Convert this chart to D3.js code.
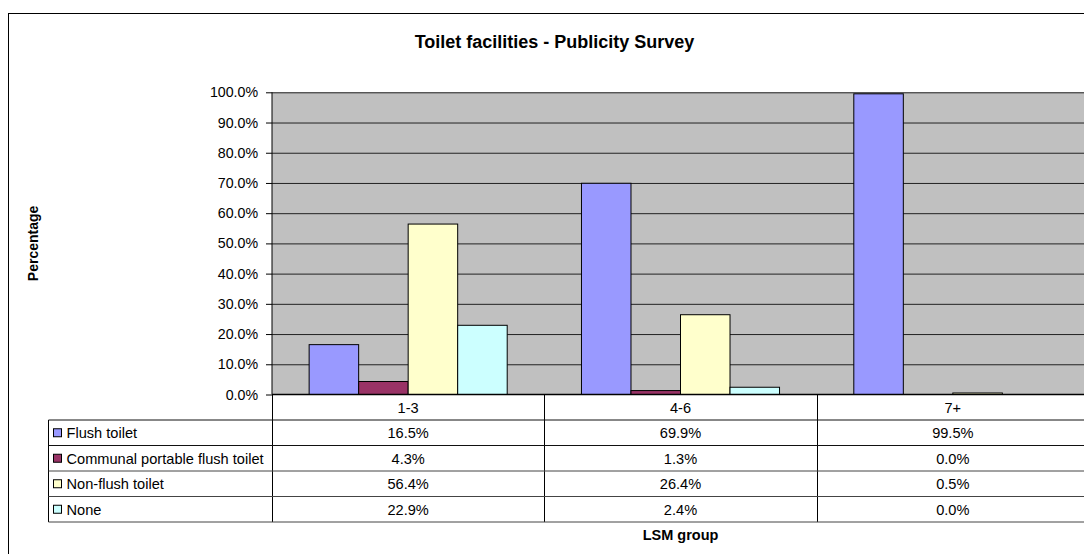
<!DOCTYPE html>
<html>
<head>
<meta charset="utf-8">
<script src="https://cdn.jsdelivr.net/npm/d3@7"></script>
<style>
  html, body { margin: 0; padding: 0; background: #fff; }
  svg { display: block; font-family: "Liberation Sans", Arial, sans-serif; }
</style>
</head>
<body>
<svg id="chart" width="1084" height="554"></svg>
<script>
// ---- data ----
const categories = ["1-3", "4-6", "7+"];
const seriesNames = ["Flush toilet", "Communal portable flush toilet", "Non-flush toilet", "None"];
const flushToilet = [0.165, 0.699, 0.995];
const communalPortable = [0.043, 0.013, 0.0];
const nonFlushToilet = [0.564, 0.264, 0.005];
const noneValues = [0.229, 0.024, 0.0];
const yTicks = [0, 0.1, 0.2, 0.3, 0.4, 0.5, 0.6, 0.7, 0.8, 0.9, 1.0];
const seriesColors = ["#9999FF", "#993366", "#FFFFCC", "#CCFFFF"];
const chartTitle = "Toilet facilities - Publicity Survey";
const yTitle = "Percentage";
const xTitle = "LSM group";

const seriesValues = [flushToilet, communalPortable, nonFlushToilet, noneValues];

// ---- layout ----
const svg = d3.select("#chart");
const plotLeft = 272, plotRight = 1089, plotTop = 92.3, plotBottom = 394.5;
const rowH = 25.5;
const legendLeft = 48.5;
const fmt = d3.format(".1%");
const tableFont = "14.6px";

// outer chart border
svg.append("rect")
  .attr("x", 8.5).attr("y", 13.5)
  .attr("width", 1100).attr("height", 560)
  .attr("fill", "#fff").attr("stroke", "#000").attr("stroke-width", 1);

const x0 = d3.scaleBand().domain(categories).range([plotLeft, plotRight]).padding(0);
const bw = x0.bandwidth();
const barW = bw / 5.5;
const x1 = d3.scaleBand().domain(seriesNames)
  .range([barW * 0.75, bw - barW * 0.75]).padding(0);
const y = d3.scaleLinear().domain([0, 1]).range([plotBottom, plotTop]);

// plot background
svg.append("rect")
  .attr("x", plotLeft).attr("y", plotTop)
  .attr("width", plotRight - plotLeft).attr("height", plotBottom - plotTop)
  .attr("fill", "#C0C0C0");

// gridlines
const grid = svg.append("g")
  .attr("transform", `translate(${plotLeft},0)`)
  .call(d3.axisRight(y).tickValues(yTicks.slice(1)).tickSize(plotRight - plotLeft).tickFormat(""));
grid.select(".domain").remove();
grid.selectAll(".tick line").attr("stroke", "#222").attr("stroke-width", 1);

// bars
const barData = [];
categories.forEach((c, ci) => {
  seriesNames.forEach((s, si) => {
    barData.push({ cat: c, series: s, si: si, value: seriesValues[si][ci] });
  });
});
svg.append("g").selectAll("rect")
  .data(barData)
  .join("rect")
  .attr("x", d => x0(d.cat) + x1(d.series))
  .attr("y", d => y(d.value))
  .attr("width", x1.bandwidth())
  .attr("height", d => plotBottom - y(d.value))
  .attr("fill", d => seriesColors[d.si])
  .attr("stroke", "#000")
  .attr("stroke-width", 1);

// y axis
const yAxis = svg.append("g")
  .attr("transform", `translate(${plotLeft},0)`)
  .call(d3.axisLeft(y).tickValues(yTicks).tickFormat(fmt).tickSize(6).tickPadding(8));
yAxis.select(".domain").attr("stroke", "#000").attr("d", `M0,${plotTop}V${plotBottom}`);
yAxis.selectAll(".tick line").attr("stroke", "#000");
yAxis.selectAll(".tick text")
  .attr("font-size", "14.2px")
  .attr("font-family", "Liberation Sans, Arial, sans-serif")
  .attr("fill", "#000");

// category axis line (0%)
svg.append("line")
  .attr("x1", plotLeft).attr("x2", plotRight)
  .attr("y1", plotBottom).attr("y2", plotBottom)
  .attr("stroke", "#000").attr("stroke-width", 1.5);

// ---- data table ----
const table = svg.append("g");
const tableBottom = plotBottom + rowH * 5;

// header row: category labels
table.selectAll("text.cat")
  .data(categories)
  .join("text")
  .attr("class", "cat")
  .attr("x", d => x0(d) + bw / 2)
  .attr("y", plotBottom + rowH / 2)
  .attr("dy", "0.36em")
  .attr("text-anchor", "middle")
  .attr("font-size", tableFont)
  .text(d => d);

// vertical lines
const vx = categories.map(c => x0(c)).concat([plotRight]);
table.selectAll("line.v")
  .data(vx)
  .join("line")
  .attr("class", "v")
  .attr("x1", d => Math.round(d) + 0.5).attr("x2", d => Math.round(d) + 0.5)
  .attr("y1", plotBottom).attr("y2", tableBottom)
  .attr("stroke", "#000");
table.append("line")
  .attr("x1", legendLeft).attr("x2", legendLeft)
  .attr("y1", plotBottom + rowH).attr("y2", tableBottom)
  .attr("stroke", "#000");

// horizontal lines
const hy = d3.range(1, 6).map(i => plotBottom + rowH * i);
table.selectAll("line.h")
  .data(hy)
  .join("line")
  .attr("class", "h")
  .attr("x1", legendLeft).attr("x2", plotRight)
  .attr("y1", d => d).attr("y2", d => d)
  .attr("stroke", (d, i) => i < 2 ? "#111" : "#444")
  .attr("stroke-width", 1);

// rows
seriesNames.forEach((s, si) => {
  const cy = plotBottom + rowH * (si + 1) + rowH / 2;
  table.append("rect")
    .attr("x", 53.5).attr("y", cy - 4)
    .attr("width", 8).attr("height", 8)
    .attr("fill", seriesColors[si]).attr("stroke", "#000");
  table.append("text")
    .attr("x", 66.5).attr("y", cy).attr("dy", "0.36em")
    .attr("font-size", tableFont)
    .text(s);
  table.selectAll(null)
    .data(categories)
    .join("text")
    .attr("x", d => x0(d) + bw / 2)
    .attr("y", cy).attr("dy", "0.36em")
    .attr("text-anchor", "middle")
    .attr("font-size", tableFont)
    .text((d, ci) => fmt(seriesValues[si][ci]));
});

// titles
svg.append("text")
  .attr("x", 554.5).attr("y", 48)
  .attr("text-anchor", "middle")
  .attr("font-size", "18px").attr("font-weight", "bold")
  .text(chartTitle);

svg.append("text")
  .attr("transform", `translate(38,${(plotTop + plotBottom) / 2}) rotate(-90)`)
  .attr("text-anchor", "middle")
  .attr("font-size", "14px").attr("font-weight", "bold")
  .text(yTitle);

svg.append("text")
  .attr("x", (plotLeft + plotRight) / 2).attr("y", 540)
  .attr("text-anchor", "middle")
  .attr("font-size", "14.5px").attr("font-weight", "bold")
  .text(xTitle);
</script>
</body>
</html>
